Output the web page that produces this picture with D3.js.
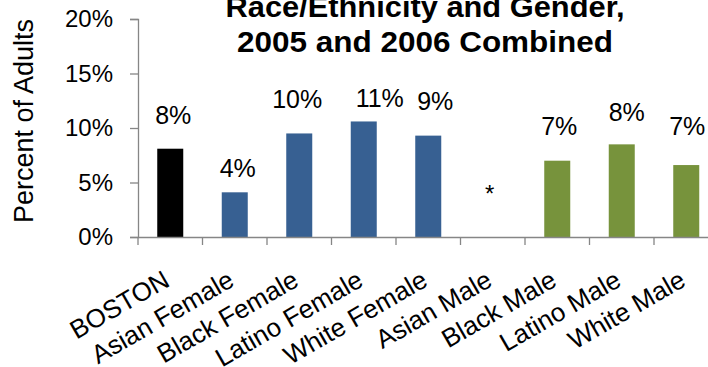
<!DOCTYPE html>
<html>
<head>
<meta charset="utf-8">
<script src="https://cdn.jsdelivr.net/npm/d3@7"></script>
<style>
  html, body { margin: 0; padding: 0; background: #fff; }
  svg { display: block; font-family: "Liberation Sans", Arial, sans-serif; }
</style>
</head>
<body>
<svg id="chart" width="708" height="367"></svg>
<script>
// ---- data ----
const categories = ["BOSTON", "Asian Female", "Black Female", "Latino Female", "White Female",
                    "Asian Male", "Black Male", "Latino Male", "White Male"];
const values = [8.1, 4.1, 9.5, 10.6, 9.3, null, 7.0, 8.5, 6.6];
const valueLabels = ["8%", "4%", "10%", "11%", "9%", "*", "7%", "8%", "7%"];
const groups = ["total", "female", "female", "female", "female", "male", "male", "male", "male"];
const yTicks = [0, 5, 10, 15, 20];
const titleLines = ["Race/Ethnicity and Gender,", "2005 and 2006 Combined"];
const yTitle = "Percent of Adults";

// ---- layout / style ----
const colors = { total: "#000000", female: "#376092", male: "#77933C" };
const labelOffsetY = [25, 15, 25, 14, 26, 0, 26, 23, 30];
const labelOffsetX = [3, 3, -2, 16, 7, -3, 2, 5, 1];
const titleWidths = [399, 376];

const svg = d3.select("#chart");
const x = d3.scaleBand().domain(categories).range([138, 718.5]).padding(0);
const y = d3.scaleLinear().domain([0, 20]).range([237, 19]);
const barW = 26;
const axisColor = "#868686";

// title
svg.append("g").selectAll("text").data(titleLines).join("text")
  .attr("x", 425).attr("y", (d, i) => 17 + i * 35)
  .attr("text-anchor", "middle")
  .attr("font-weight", "bold").attr("font-size", 29).attr("fill", "#000")
  .attr("textLength", (d, i) => titleWidths[i]).attr("lengthAdjust", "spacingAndGlyphs")
  .text(d => d);

// y axis
const yAxis = svg.append("g").attr("transform", "translate(138,0)")
  .call(d3.axisLeft(y).tickValues(yTicks).tickFormat(d => d + "%").tickSizeOuter(0).tickSize(8).tickPadding(17));
yAxis.select(".domain").attr("stroke", axisColor).attr("stroke-width", 1.3);
yAxis.selectAll(".tick line").attr("stroke", axisColor).attr("stroke-width", 1.3);
yAxis.selectAll(".tick text").attr("font-size", 24).attr("fill", "#000")
  .attr("font-family", "Liberation Sans, Arial, sans-serif");

// y title
svg.append("text")
  .attr("transform", "translate(33,121) rotate(-90)")
  .attr("text-anchor", "middle").attr("font-size", 27).attr("fill", "#000")
  .text(yTitle);

// bars
const data = categories.map((c, i) => ({ c, v: values[i], label: valueLabels[i], g: groups[i], i }));
svg.append("g").selectAll("rect").data(data.filter(d => d.v != null)).join("rect")
  .attr("x", d => x(d.c) + x.bandwidth() / 2 - barW / 2)
  .attr("width", barW)
  .attr("y", d => y(d.v))
  .attr("height", d => y(0) - y(d.v))
  .attr("fill", d => colors[d.g]);

// x axis
const xAxis = svg.append("g").attr("transform", "translate(0,237)")
  .call(d3.axisBottom(x).tickSize(0).tickFormat(""));
xAxis.select(".domain").attr("stroke", axisColor).attr("stroke-width", 1.3);
xAxis.selectAll(".tick").remove();
const boundaries = d3.range(categories.length + 1).map(i => 138 + i * x.step());
xAxis.selectAll("line.b").data(boundaries).join("line").attr("class", "b")
  .attr("x1", d => d).attr("x2", d => d).attr("y1", 0).attr("y2", 8)
  .attr("stroke", axisColor).attr("stroke-width", 1.3);

// x labels
svg.append("g").selectAll("text").data(categories).join("text")
  .attr("transform", d => `translate(${x(d) + x.bandwidth() / 2 + 1},285) rotate(-30)`)
  .attr("text-anchor", "end").attr("font-size", 26).attr("fill", "#000")
  .text(d => d);

// value labels
svg.append("g").selectAll("text").data(data).join("text")
  .attr("x", d => x(d.c) + x.bandwidth() / 2 + labelOffsetX[d.i])
  .attr("y", d => d.v == null ? 202 : y(d.v) - labelOffsetY[d.i])
  .attr("text-anchor", "middle")
  .attr("font-size", d => d.v == null ? 24 : 25).attr("fill", "#000")
  .text(d => d.label);
</script>
</body>
</html>
